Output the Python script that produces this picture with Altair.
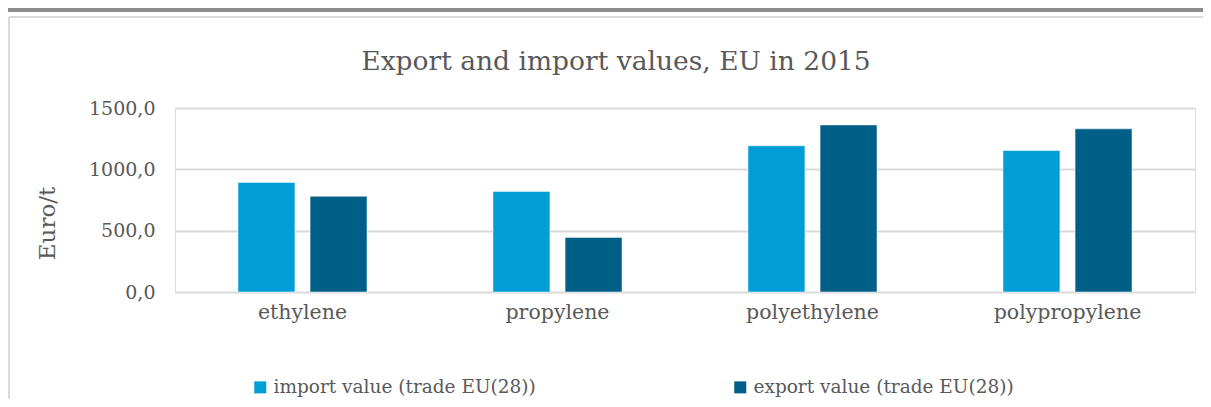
import altair as alt
import pandas as pd

categories = ["ethylene", "propylene", "polyethylene", "polypropylene"]
series = ["import value (trade EU(28))", "export value (trade EU(28))"]
import_values = [893, 820, 1192, 1153]
export_values = [780, 445, 1362, 1330]
y_ticks = [0, 500, 1000, 1500]

rows = []
for c, iv, ev in zip(categories, import_values, export_values):
    rows.append({"category": c, "series": series[0], "value": iv})
    rows.append({"category": c, "series": series[1], "value": ev})
df = pd.DataFrame(rows)

FONT = "DejaVu Serif"
TXT = "#595959"

bars = alt.Chart(df).mark_bar(stroke="#ffffff", strokeWidth=0.5).encode(
    x=alt.X("category:N", sort=categories,
            scale=alt.Scale(paddingInner=0.494, paddingOuter=0.247),
            axis=alt.Axis(title=None, labelAngle=0, labelFontSize=20.5, labelColor=TXT,
                          labelFont=FONT, domain=False, ticks=False, labelPadding=10)),
    xOffset=alt.XOffset("series:N", sort=series,
                        scale=alt.Scale(paddingInner=0.21, paddingOuter=0)),
    y=alt.Y("value:Q", scale=alt.Scale(domain=[0, 1500]),
            axis=alt.Axis(values=y_ticks, title="Euro/t", titleFont=FONT, titleFontSize=23,
                          titleFontWeight="normal", titleColor=TXT, titleX=-116, titleY=115,
                          labelFont=FONT, labelFontSize=19, labelColor=TXT,
                          labelExpr="replace(format(datum.value, '.1f'), '.', ',')",
                          domain=False, ticks=False, labelPadding=20,
                          gridColor="#d9d9d9", gridWidth=2)),
    color=alt.Color("series:N", sort=series,
                    scale=alt.Scale(domain=series, range=["#009dd6", "#005f87"]),
                    legend=alt.Legend(title=None, orient="none", direction="horizontal",
                                      legendX=76, legendY=270, symbolType="square",
                                      symbolSize=144, symbolStrokeWidth=0,
                                      labelFont=FONT, labelFontSize=18.5, labelColor=TXT,
                                      labelLimit=400, columnPadding=195, labelOffset=4)),
)

top_line = alt.Chart(df).mark_rule(color="#8c8c8c", strokeWidth=3, clip=False).encode(
    x=alt.value(-175), x2=alt.value(1030), y=alt.value(-98))
frame_top = alt.Chart(df).mark_rule(color="#d9d9d9", strokeWidth=2, clip=False).encode(
    x=alt.value(-166), x2=alt.value(1030), y=alt.value(-91))
frame_left = alt.Chart(df).mark_rule(color="#d9d9d9", strokeWidth=2, clip=False).encode(
    x=alt.value(-166), y=alt.value(-91), y2=alt.value(300))

chart = alt.layer(top_line, frame_top, frame_left, bars).properties(
    width=1020, height=184,
    title=alt.TitleParams("Export and import values, EU in 2015", font=FONT, fontSize=26.5,
                          fontWeight="normal", color=TXT, anchor="middle", dx=-69,
                          offset=0, dy=67),
    autosize=alt.AutoSizeParams(type="none"),
    padding={"left": 167, "top": 100, "right": 8, "bottom": 107},
).configure_view(stroke=None).configure(background="white")

chart.save("out.html", embed_options={"renderer": "svg", "actions": False})
